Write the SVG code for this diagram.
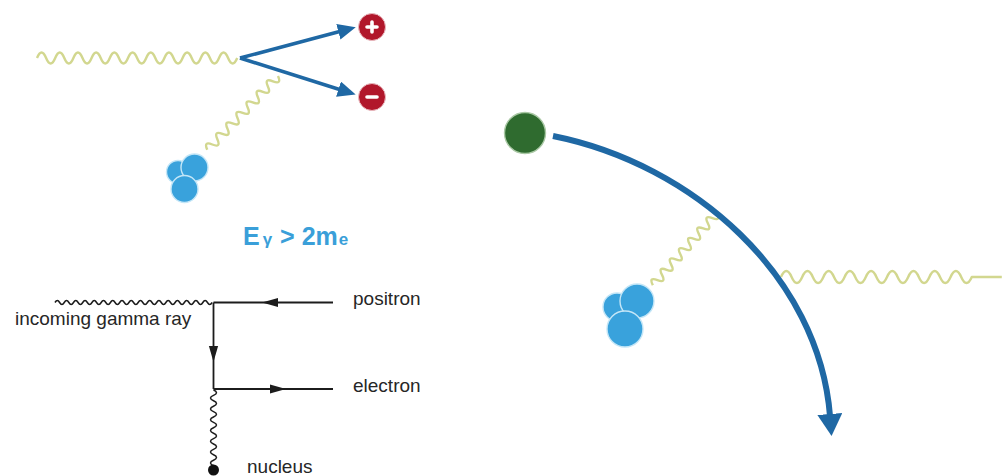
<svg xmlns="http://www.w3.org/2000/svg" width="1002" height="476" viewBox="0 0 1002 476">
  <style>
    .photon { fill: none; stroke: #d2d78f; stroke-width: 2.4; stroke-linejoin: round; }
    .track { fill: none; stroke: #1f68a4; stroke-linecap: butt; }
    .nucleon { fill: #39a2dc; stroke: #c4e6f7; stroke-width: 1.4; }
    .charge { fill: #b1172b; stroke: #e9b9bf; stroke-width: 1; }
    .sign { stroke: #ffffff; stroke-width: 3.6; stroke-linecap: round; }
    .feyn { fill: none; stroke: #1c1c1c; stroke-width: 1.8; }
    .feyn-wave { fill: none; stroke: #1c1c1c; stroke-width: 1.5; }
    .label { font-family: "Liberation Sans", Arial, sans-serif; font-size: 19px; fill: #262626; }
    .energy { font-family: "Liberation Sans", Arial, sans-serif; font-weight: bold; fill: #3a9fd9; }
  </style>
  <defs>
    <marker id="head-small" markerUnits="userSpaceOnUse" viewBox="0 0 18 16" markerWidth="18" markerHeight="16" refX="11" refY="8" orient="auto">
      <path d="M0,0 L18,8 L0,16 z" fill="#1f68a4"/>
    </marker>
    <marker id="head-large" markerUnits="userSpaceOnUse" viewBox="0 0 22 25" markerWidth="22" markerHeight="25" refX="2" refY="12.5" orient="auto">
      <path d="M0,0 L22,12.5 L0,25 z" fill="#1f68a4"/>
    </marker>
    <path id="ftri" d="M0,0 L-16,-4.6 L-16,4.6 z" fill="#1c1c1c"/>
  </defs>

  <rect width="1002" height="476" fill="#ffffff"/>

  <!-- connectors: photon lines, particle tracks, diagram lines -->
  <g id="connectors">
    <!-- incoming gamma ray, top panel -->
    <path class="photon" transform="translate(37,58)" d="M0,0 q4.55,-11 9.1,0 q4.55,11 9.1,0 q4.55,-11 9.1,0 q4.55,11 9.1,0 q4.55,-11 9.1,0 q4.55,11 9.1,0 q4.55,-11 9.1,0 q4.55,11 9.1,0 q4.55,-11 9.1,0 q4.55,11 9.1,0 q4.55,-11 9.1,0 q4.55,11 9.1,0 q4.55,-11 9.1,0 q4.55,11 9.1,0 q4.55,-11 9.1,0 q4.55,11 9.1,0 q4.55,-11 9.1,0 q4.55,11 9.1,0 q4.55,-11 9.1,0 q4.55,11 9.1,0 q4.55,-11 9.1,0 q4.55,11 9.1,0"/>
    <!-- virtual photon to the nucleus, top panel -->
    <path class="photon" transform="translate(278,76) rotate(133.8)" d="M0,0 q3.65,-9 7.3,0 q3.65,9 7.3,0 q3.65,-9 7.3,0 q3.65,9 7.3,0 q3.65,-9 7.3,0 q3.65,9 7.3,0 q3.65,-9 7.3,0 q3.65,9 7.3,0 q3.65,-9 7.3,0 q3.65,9 7.3,0 q3.65,-9 7.3,0 q3.65,9 7.3,0 q3.65,-9 7.3,0 q3.65,9 7.3,0"/>
    <!-- pair tracks -->
    <path class="track" stroke-width="3.6" d="M240,58 L349,29" marker-end="url(#head-small)"/>
    <path class="track" stroke-width="3.6" d="M240,58 L349,92.5" marker-end="url(#head-small)"/>

    <!-- bremsstrahlung photon, right panel -->
    <path class="photon" transform="translate(781,277)" d="M0,0 q5.3,-12 10.6,0 q5.3,12 10.6,0 q5.3,-12 10.6,0 q5.3,12 10.6,0 q5.3,-12 10.6,0 q5.3,12 10.6,0 q5.3,-12 10.6,0 q5.3,12 10.6,0 q5.3,-12 10.6,0 q5.3,12 10.6,0 q5.3,-12 10.6,0 q5.3,12 10.6,0 q5.3,-12 10.6,0 q5.3,12 10.6,0 q5.3,-12 10.6,0 q5.3,12 10.6,0 q5.3,-12 10.6,0 q5.3,12 10.6,0 h30"/>
    <path class="photon" transform="translate(717,213) rotate(131.6)" d="M0,0 q3.45,-9 6.9,0 q3.45,9 6.9,0 q3.45,-9 6.9,0 q3.45,9 6.9,0 q3.45,-9 6.9,0 q3.45,9 6.9,0 q3.45,-9 6.9,0 q3.45,9 6.9,0 q3.45,-9 6.9,0 q3.45,9 6.9,0 q3.45,-9 6.9,0 q3.45,9 6.9,0 q3.45,-9 6.9,0 q3.45,9 6.9,0"/>
    <!-- deflected electron track -->
    <path class="track" stroke-width="6" d="M553,136 C693,164 819,276 830,416" marker-end="url(#head-large)"/>

    <!-- Feynman diagram -->
    <path class="feyn-wave" transform="translate(55,302.5)" d="M0,0 q2.31,-4 4.62,0 q2.31,4 4.62,0 q2.31,-4 4.62,0 q2.31,4 4.62,0 q2.31,-4 4.62,0 q2.31,4 4.62,0 q2.31,-4 4.62,0 q2.31,4 4.62,0 q2.31,-4 4.62,0 q2.31,4 4.62,0 q2.31,-4 4.62,0 q2.31,4 4.62,0 q2.31,-4 4.62,0 q2.31,4 4.62,0 q2.31,-4 4.62,0 q2.31,4 4.62,0 q2.31,-4 4.62,0 q2.31,4 4.62,0 q2.31,-4 4.62,0 q2.31,4 4.62,0 q2.31,-4 4.62,0 q2.31,4 4.62,0 q2.31,-4 4.62,0 q2.31,4 4.62,0 q2.31,-4 4.62,0 q2.31,4 4.62,0 q2.31,-4 4.62,0 q2.31,4 4.62,0 q2.31,-4 4.62,0 q2.31,4 4.62,0 q2.31,-4 4.62,0 q2.31,4 4.62,0 q2.31,-4 4.62,0 q2.31,4 4.62,0"/>
    <path class="feyn" d="M213.5,302.5 H333 M213.5,302.5 V389 M213.5,389 H333"/>
    <use href="#ftri" transform="translate(262,302.5) rotate(180)"/>
    <use href="#ftri" transform="translate(213.5,362) rotate(90)"/>
    <use href="#ftri" transform="translate(286,389)"/>
    <path class="feyn-wave" transform="translate(213.5,390) rotate(90)" d="M0,0 q2.7,-6 5.4,0 q2.7,6 5.4,0 q2.7,-6 5.4,0 q2.7,6 5.4,0 q2.7,-6 5.4,0 q2.7,6 5.4,0 q2.7,-6 5.4,0 q2.7,6 5.4,0 q2.7,-6 5.4,0 q2.7,6 5.4,0 q2.7,-6 5.4,0 q2.7,6 5.4,0 q2.7,-6 5.4,0 q2.7,6 5.4,0"/>
  </g>

  <!-- positron -->
  <g id="positron">
    <circle class="charge" cx="372" cy="27" r="13.5"/>
    <path class="sign" d="M367,27 H377 M372,22 V32"/>
  </g>

  <!-- electron -->
  <g id="electron">
    <circle class="charge" cx="372" cy="97" r="13.5"/>
    <path class="sign" d="M367,97 H377"/>
  </g>

  <!-- nucleus, top panel -->
  <g id="nucleus-top">
    <circle class="nucleon" cx="178" cy="172" r="11.5"/>
    <circle class="nucleon" cx="194.5" cy="167.5" r="13.5"/>
    <circle class="nucleon" cx="184.5" cy="189" r="13.5"/>
  </g>

  <!-- threshold condition -->
  <g id="threshold">
    <text class="energy" x="243" y="245" font-size="25">E<tspan font-size="17" dx="3">γ</tspan><tspan dx="1"> &gt; 2m</tspan><tspan font-size="17" dx="1">e</tspan></text>
  </g>

  <!-- incoming charged particle, right panel -->
  <g id="charged-particle">
    <circle cx="525" cy="133" r="20.5" fill="#2f6b2f" stroke="#a9c8a4" stroke-width="1.4"/>
  </g>

  <!-- nucleus, right panel -->
  <g id="nucleus-right">
    <circle class="nucleon" cx="617" cy="307" r="14"/>
    <circle class="nucleon" cx="637" cy="301" r="17"/>
    <circle class="nucleon" cx="625" cy="329" r="18"/>
  </g>

  <!-- Feynman diagram labels and vertex -->
  <g id="feynman-labels">
    <text class="label" x="15" y="325">incoming gamma ray</text>
    <text class="label" x="353" y="305">positron</text>
    <text class="label" x="353" y="392">electron</text>
    <text class="label" x="247" y="473">nucleus</text>
  </g>
  <g id="feynman-nucleus">
    <circle cx="213.5" cy="470" r="5.5" fill="#111111"/>
  </g>
</svg>
